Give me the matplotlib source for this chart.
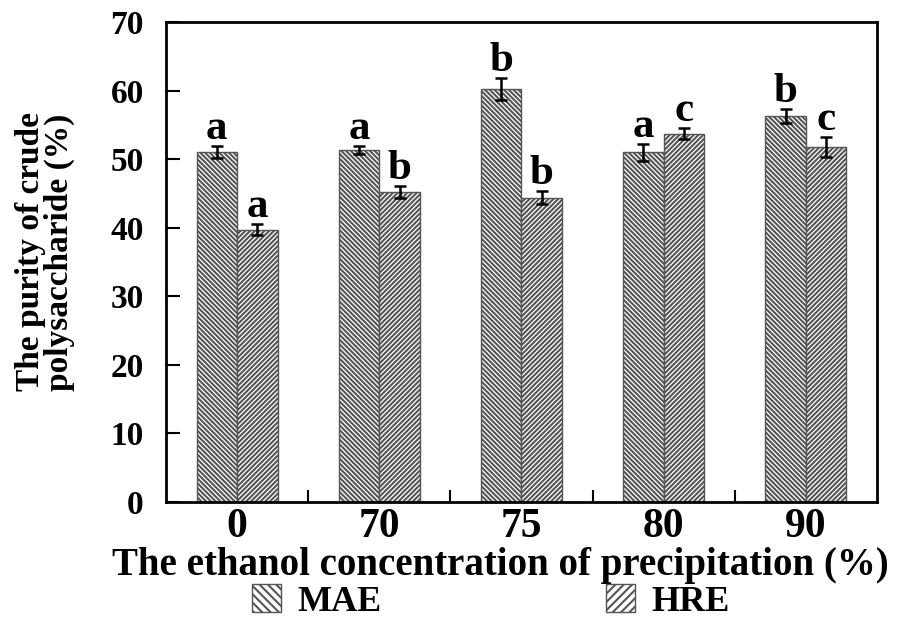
import matplotlib
matplotlib.use("Agg")
import matplotlib.pyplot as plt
import numpy as np
from matplotlib.patches import Patch

categories = ["0", "70", "75", "80", "90"]
mae = [51.0, 51.3, 60.3, 51.0, 56.3]
mae_err = [0.9, 0.6, 1.6, 1.2, 1.0]
hre = [39.7, 45.2, 44.4, 53.7, 51.8]
hre_err = [0.8, 0.9, 1.0, 0.8, 1.5]
mae_letters = ["a", "a", "b", "a", "b"]
hre_letters = ["a", "b", "b", "c", "c"]

plt.rcParams['font.family'] = ['Liberation Serif', 'DejaVu Serif']
plt.rcParams['font.weight'] = 'bold'
plt.rcParams['hatch.linewidth'] = 1.5
plt.rcParams['hatch.color'] = 'black'

fig = plt.figure(figsize=(9.09, 6.17), dpi=100)
ax = fig.add_axes([0.1826, 0.1864, 0.9648 - 0.1826, 0.9643 - 0.1864])

x = np.arange(len(categories))
w = 0.285
ax.bar(x - w / 2, mae, w, facecolor='white', edgecolor='#555555', linewidth=1.0,
       hatch='\\' * 7, yerr=mae_err, capsize=4,
       error_kw=dict(ecolor='black', elinewidth=1.8, capthick=1.8))
ax.bar(x + w / 2, hre, w, facecolor='white', edgecolor='#555555', linewidth=1.0,
       hatch='/' * 7, yerr=hre_err, capsize=4,
       error_kw=dict(ecolor='black', elinewidth=1.8, capthick=1.8))

for xi, v, e, t in zip(x - w / 2, mae, mae_err, mae_letters):
    ax.annotate(t, (xi, v + e), xytext=(0, 5), textcoords='offset points',
                ha='center', va='baseline', fontsize=31, fontweight='bold')
for xi, v, e, t in zip(x + w / 2, hre, hre_err, hre_letters):
    ax.annotate(t, (xi, v + e), xytext=(0, 5), textcoords='offset points',
                ha='center', va='baseline', fontsize=31, fontweight='bold')

ax.set_xlim(-0.5, 4.5)
ax.set_ylim(0, 70)
ax.set_yticks(np.arange(0, 71, 10))
ax.set_xticks(x)
ax.set_xticklabels(categories, fontsize=30, fontweight='bold')
ax.set_xticks(x[:-1] + 0.5, minor=True)
ax.tick_params(axis='x', which='major', length=0, pad=4)
ax.tick_params(axis='x', which='minor', direction='in', length=9, width=1.5)
ax.tick_params(axis='y', direction='in', length=10, width=1.5, labelsize=24, pad=16)
for lab in ax.get_yticklabels():
    lab.set_fontweight('bold')
for s in ax.spines.values():
    s.set_linewidth(2)

ax.set_xlabel("The ethanol concentration of precipitation (%)", fontsize=28,
              fontweight='bold')
ax.xaxis.set_label_coords(0.471, -0.093)
ax.set_ylabel("The purity of crude\npolysaccharide (%)", fontsize=24,
              fontweight='bold', linespacing=0.9)
ax.yaxis.set_label_coords(-0.128, 0.521)

handles = [Patch(facecolor='white', edgecolor='#555555', hatch='\\' * 4, label='MAE'),
           Patch(facecolor='white', edgecolor='#555555', hatch='/' * 4, label='HRE')]
fig.legend(handles=handles, loc='center', bbox_to_anchor=(0.540, 0.025), ncol=2,
           frameon=False, fontsize=26, handlelength=0.8, handleheight=0.8,
           handletextpad=0.45, columnspacing=6.2, borderaxespad=0, borderpad=0)

fig.savefig("out.png", dpi=100)
